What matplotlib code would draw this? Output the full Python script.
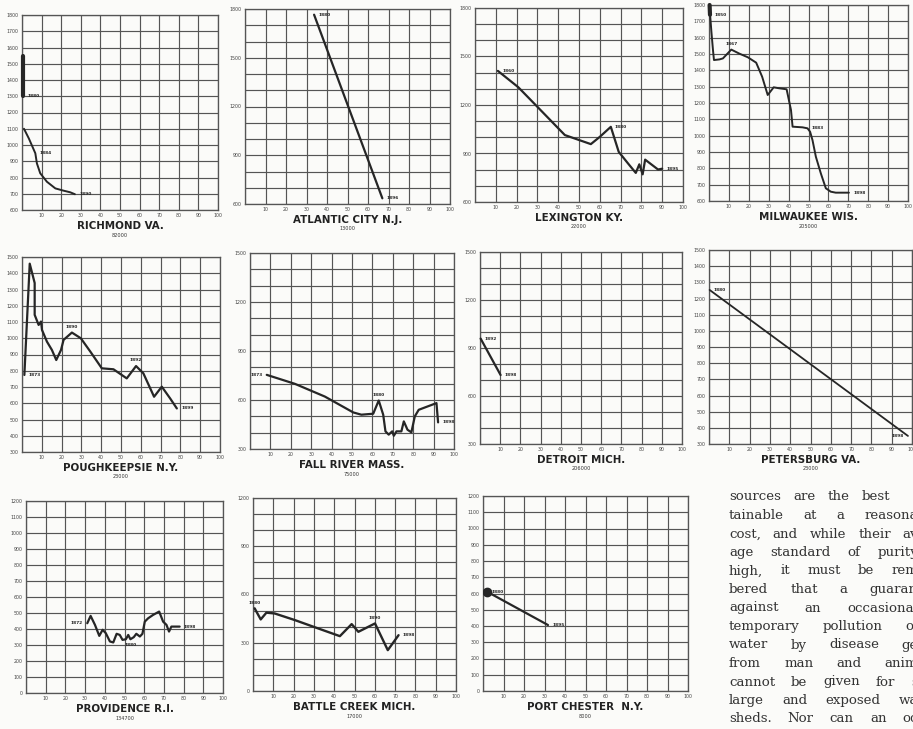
import matplotlib
matplotlib.use('Agg')
import matplotlib.pyplot as plt

W, H = 913, 729

# ---- data (x = years scale 0-100, y = death rate scale) ----
richmond_top_x = [0.5, 0.5]
richmond_top_y = [1550, 1300]
richmond_x = [1, 3.5, 6.8, 7.6, 9.3, 12.7, 17, 21.2, 24.6, 27]
richmond_y = [1100, 1040, 949, 887, 826, 774, 733, 719, 709, 697]

atlantic_x = [33.7, 67]
atlantic_y = [1765, 635]

lexington_x = [11, 20.8, 29.6, 43.2, 55.7, 60, 65.3, 69.1, 73.6, 77.3, 79, 80.6, 81.8, 88, 90]
lexington_y = [1411, 1310, 1194, 1014, 958, 1003, 1065, 910, 838, 780, 833, 771, 862, 801, 806]

milwaukee_top_x = [0.3, 0.5]
milwaukee_top_y = [1800, 1740]
milwaukee_x = [0.5, 1.2, 2, 2.5, 5.3, 7, 11.2, 15.3, 19.5, 23.7, 26.7, 29.5, 32.5, 35.3,
               39, 41.2, 42, 47, 49.5, 50.8, 52, 53.7, 56.2, 58.7, 61.2, 63.7, 70.3]
milwaukee_y = [1749, 1637, 1524, 1463, 1467, 1473, 1527, 1502, 1480, 1447, 1361, 1249, 1296, 1290,
               1284, 1157, 1055, 1051, 1045, 1024, 973, 871, 769, 678, 657, 651, 651]

poughkeepsie_x = [1.2, 3.9, 6.4, 6.4, 8.4, 9.6, 10.1, 12.6, 15.1, 17.3, 19.7, 21, 25.2, 29.7,
                  34.5, 40.3, 46.2, 52.9, 57.6, 61.3, 66.7, 70.6, 74.8, 78.2]
poughkeepsie_y = [774, 1459, 1340, 1144, 1082, 1103, 1051, 979, 928, 866, 928, 990, 1035, 1000,
                  918, 815, 809, 753, 829, 784, 640, 702, 630, 568]

fallriver_x = [8.2, 22, 36.7, 50.6, 54.6, 60.4, 63.1, 65.3, 66.4, 68, 69.7, 70.5, 71.8, 74.2,
               75.4, 77.2, 79.1, 80.8, 82.7, 91.4, 92.2]
fallriver_y = [754, 699, 621, 524, 510, 516, 597, 510, 408, 388, 408, 381, 408, 408,
               469, 418, 402, 500, 540, 581, 463]

detroit_x = [0.3, 10.2]
detroit_y = [959, 731]

petersburg_x = [0.3, 98]
petersburg_y = [1253, 350]

providence_x = [31.1, 32.8, 35, 37.2, 38.9, 40.5, 42.6, 44.3, 46, 47.6, 49, 50.7, 51.9, 53,
                54.7, 56, 57.8, 59.1, 60.3, 62, 64.5, 67.6, 69.6, 71.3, 72.6, 73.8, 78]
providence_y = [436, 482, 426, 357, 395, 374, 322, 316, 370, 363, 332, 336, 363, 336,
                349, 370, 353, 370, 446, 467, 488, 509, 446, 426, 384, 415, 415]

battle_x = [0.8, 3.8, 6.6, 10.7, 20.6, 32.1, 42.8, 48.6, 51.9, 60.1, 66.4, 71.7]
battle_y = [514, 445, 487, 482, 441, 389, 341, 416, 368, 420, 254, 347]

portchester_x = [2, 31.7]
portchester_y = [611, 406]

x_ticks = list(range(0, 101, 10))
x_ticklabels = [''] + [str(v) for v in x_ticks[1:]]

text_lines = [
    "sources are the best",
    "tainable at a reasona",
    "cost, and while their av",
    "age standard of purity",
    "high, it must be rem",
    "bered that a guaran",
    "against an occasional",
    "temporary pollution of",
    "water by disease ge",
    "from man and anim",
    "cannot be given for s",
    "large and exposed wa",
    "sheds.  Nor can an oc",
]
text_right_px = [890] + [918] * 12

INK = '#262626'
GRID = '#555555'

fig = plt.figure(figsize=(W / 100, H / 100), dpi=100)
fig.patch.set_facecolor('#fbfbf9')


def panel(box, ymin, label_step, title, pop, series, notes):
    l, t, r, b = box
    ax = fig.add_axes([l / W, 1 - b / H, (r - l) / W, (b - t) / H])
    ax.set_facecolor('#fbfbf9')
    ax.set_xlim(0, 100)
    ax.set_ylim(ymin, ymin + 1200)
    yt = list(range(ymin, ymin + 1201, 100))
    ax.set_xticks(x_ticks)
    ax.set_xticklabels(x_ticklabels)
    ax.set_yticks(yt)
    ax.set_yticklabels([str(v) if (v - ymin) % label_step == 0 else '' for v in yt])
    ax.grid(True, color=GRID, linewidth=0.85)
    ax.tick_params(length=0, labelsize=3.4, pad=2.5, colors='#444')
    for s in ax.spines.values():
        s.set_color(GRID)
        s.set_linewidth(0.95)
    for xs, ys, lw in series:
        ax.plot(xs, ys, color=INK, linewidth=lw, solid_joinstyle='round',
                solid_capstyle='round', clip_on=False, zorder=3)
    for xs, ys, i, txt, side in notes:
        off = {'r': (3, 0, 'left'), 'l': (-3, 0, 'right'),
               'a': (0, 4, 'center'), 'b': (0, -4, 'center')}[side]
        ax.annotate(txt, (xs[i], ys[i]), xytext=off[:2], textcoords='offset points',
                    ha=off[2], va='center', fontsize=3.2, fontweight='bold', color=INK,
                    zorder=4)
    cx = (l + r) / 2 / W
    fig.text(cx, 1 - (b + 16) / H, title, ha='center', va='center',
             fontsize=7.4, fontweight='bold', color='#222')
    fig.text(cx, 1 - (b + 25) / H, pop, ha='center', va='center',
             fontsize=3.6, color='#333')
    return ax


# row 1
panel((22, 15, 218, 210), 600, 100, 'RICHMOND VA.', '82000',
      [(richmond_top_x, richmond_top_y, 3.0), (richmond_x, richmond_y, 1.4)],
      [(richmond_top_x, richmond_top_y, 1, '1880', 'r'),
       (richmond_x, richmond_y, 2, '1884', 'r'),
       (richmond_x, richmond_y, -1, '1890', 'r')])
panel((245, 9, 450, 204), 600, 300, 'ATLANTIC CITY N.J.', '13000',
      [(atlantic_x, atlantic_y, 1.6)],
      [(atlantic_x, atlantic_y, 0, '1880', 'r'),
       (atlantic_x, atlantic_y, -1, '1896', 'r')])
panel((475, 8, 683, 202), 600, 300, 'LEXINGTON KY.', '22000',
      [(lexington_x, lexington_y, 1.6)],
      [(lexington_x, lexington_y, 0, '1860', 'r'),
       (lexington_x, lexington_y, 6, '1880', 'r'),
       (lexington_x, lexington_y, -1, '1895', 'r')])
panel((709, 5, 908, 201), 600, 100, 'MILWAUKEE WIS.', '205000',
      [(milwaukee_top_x, milwaukee_top_y, 3.0), (milwaukee_x, milwaukee_y, 1.4)],
      [(milwaukee_top_x, milwaukee_top_y, 1, '1850', 'r'),
       (milwaukee_x, milwaukee_y, 6, '1867', 'a'),
       (milwaukee_x, milwaukee_y, 18, '1883', 'r'),
       (milwaukee_x, milwaukee_y, -1, '1898', 'r')])

# row 2
panel((22, 257, 220, 452), 300, 100, 'POUGHKEEPSIE N.Y.', '23000',
      [(poughkeepsie_x, poughkeepsie_y, 1.6)],
      [(poughkeepsie_x, poughkeepsie_y, 0, '1873', 'r'),
       (poughkeepsie_x, poughkeepsie_y, 12, '1890', 'a'),
       (poughkeepsie_x, poughkeepsie_y, 18, '1892', 'a'),
       (poughkeepsie_x, poughkeepsie_y, -1, '1899', 'r')])
panel((250, 253, 454, 449), 300, 300, 'FALL RIVER MASS.', '75000',
      [(fallriver_x, fallriver_y, 1.6)],
      [(fallriver_x, fallriver_y, 0, '1873', 'l'),
       (fallriver_x, fallriver_y, 6, '1880', 'a'),
       (fallriver_x, fallriver_y, -1, '1898', 'r')])
panel((480, 252, 682, 444), 300, 300, 'DETROIT MICH.', '206000',
      [(detroit_x, detroit_y, 1.6)],
      [(detroit_x, detroit_y, 0, '1892', 'r'),
       (detroit_x, detroit_y, -1, '1898', 'r')])
panel((709, 250, 912, 444), 300, 100, 'PETERSBURG VA.', '23000',
      [(petersburg_x, petersburg_y, 1.3)],
      [(petersburg_x, petersburg_y, 0, '1880', 'r'),
       (petersburg_x, petersburg_y, -1, '1898', 'l')])

# row 3
panel((26, 501, 223, 693), 0, 100, 'PROVIDENCE R.I.', '134700',
      [(providence_x, providence_y, 1.6)],
      [(providence_x, providence_y, 0, '1872', 'l'),
       (providence_x, providence_y, 13, '1880', 'b'),
       (providence_x, providence_y, -1, '1898', 'r')])
panel((253, 498, 456, 691), 0, 300, 'BATTLE CREEK MICH.', '17000',
      [(battle_x, battle_y, 1.7)],
      [(battle_x, battle_y, 0, '1880', 'a'),
       (battle_x, battle_y, 9, '1890', 'a'),
       (battle_x, battle_y, -1, '1898', 'r')])
ax_pc = panel((483, 496, 688, 691), 0, 100, 'PORT CHESTER  N.Y.', '8000',
              [(portchester_x, portchester_y, 1.6)],
              [(portchester_x, portchester_y, 0, '1880', 'r'),
               (portchester_x, portchester_y, -1, '1895', 'r')])
ax_pc.plot(portchester_x[:1], portchester_y[:1], 'o', color=INK, markersize=6, zorder=4)

# justified column of body text on the lower right (cut by the page edge, as in the scan)
renderer = fig.canvas.get_renderer()
x0 = 729
for k, line in enumerate(text_lines):
    y = 1 - (497 + 18.5 * k) / H
    words = line.split()
    items = []
    total = 0
    for w in words:
        t = fig.text(0, y, w, fontsize=9.6, family='DejaVu Serif', color='#333333',
                     va='center', ha='left')
        wd = t.get_window_extent(renderer).width
        items.append((t, wd))
        total += wd
    gap = (text_right_px[k] - x0 - total) / max(len(words) - 1, 1)
    x = x0
    for t, wd in items:
        t.set_x(x / W)
        x += wd + gap

fig.savefig('out.png', dpi=100, facecolor=fig.get_facecolor())
